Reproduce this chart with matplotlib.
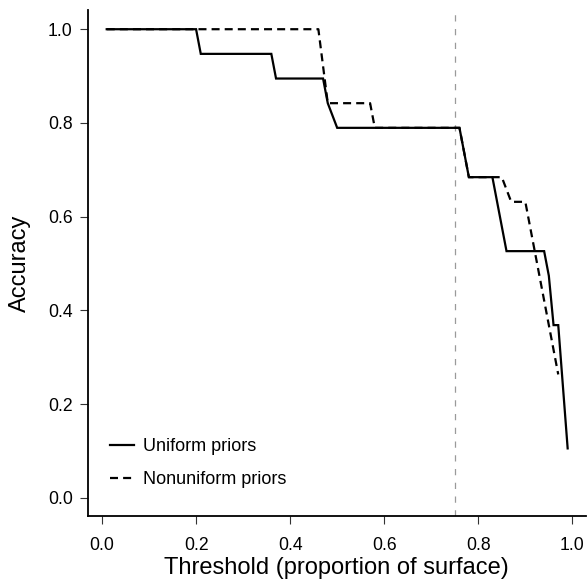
import matplotlib
matplotlib.use("Agg")
import matplotlib.pyplot as plt

plt.rcParams['font.family'] = ['Liberation Sans', 'DejaVu Sans']

# Data: vertices of the accuracy curves (n = 19 test cases)
uniform_x = [0.01, 0.20, 0.21, 0.36, 0.37, 0.47, 0.48, 0.50, 0.76, 0.78,
             0.83, 0.86, 0.94, 0.95, 0.96, 0.97, 0.99]
uniform_y = [19/19, 19/19, 18/19, 18/19, 17/19, 17/19, 16/19, 15/19, 15/19, 13/19,
             13/19, 10/19, 10/19, 9/19, 7/19, 7/19, 2/19]

nonuniform_x = [0.01, 0.46, 0.48, 0.57, 0.58, 0.76, 0.78, 0.85, 0.87, 0.90,
                0.92, 0.94, 0.96, 0.97]
nonuniform_y = [19/19, 19/19, 16/19, 16/19, 15/19, 15/19, 13/19, 13/19, 12/19, 12/19,
                10/19, 8/19, 6/19, 5/19]

threshold_line = 0.75
xticks = [0.0, 0.2, 0.4, 0.6, 0.8, 1.0]
yticks = [0.0, 0.2, 0.4, 0.6, 0.8, 1.0]
series_labels = ["Uniform priors", "Nonuniform priors"]

fig = plt.figure(figsize=(5.87, 5.83), dpi=100)
ax = fig.add_axes([87.7/587, 1 - 516/583, (586 - 87.7)/587, (516 - 10)/583])

ax.axvline(threshold_line, color='#9a9a9a', lw=0.9, linestyle=(0, (5, 6)), zorder=1)
ax.plot(uniform_x, uniform_y, color='black', lw=1.6, solid_joinstyle='miter',
        label=series_labels[0], zorder=3)
ax.plot(nonuniform_x, nonuniform_y, color='black', lw=1.6, linestyle=(0, (3.6, 2.3)),
        label=series_labels[1], zorder=2)

ax.set_xlim(-0.0304, 1.029)
ax.set_ylim(-0.039, 1.041)
ax.set_xticks(xticks)
ax.set_yticks(yticks)
ax.set_xticklabels([f"{v:.1f}" for v in xticks])
ax.set_yticklabels([f"{v:.1f}" for v in yticks])

for s in ['top', 'right']:
    ax.spines[s].set_visible(False)
for s in ['left', 'bottom']:
    ax.spines[s].set_linewidth(1.3)

ax.tick_params(axis='both', direction='out', length=5.5, width=0.8, labelsize=12.7,
               color='#333333')
ax.tick_params(axis='x', pad=9.5)
ax.tick_params(axis='y', pad=5.3)

ax.set_xlabel("Threshold (proportion of surface)", fontsize=17, labelpad=2)
ax.set_ylabel("Accuracy", fontsize=17, labelpad=12)

ax.legend(loc='lower left', bbox_to_anchor=(0.045, 0.055), frameon=False,
          fontsize=13, handlelength=1.3, handletextpad=0.5, labelspacing=0.9,
          borderpad=0, borderaxespad=0)

fig.savefig("out.png", dpi=100)
